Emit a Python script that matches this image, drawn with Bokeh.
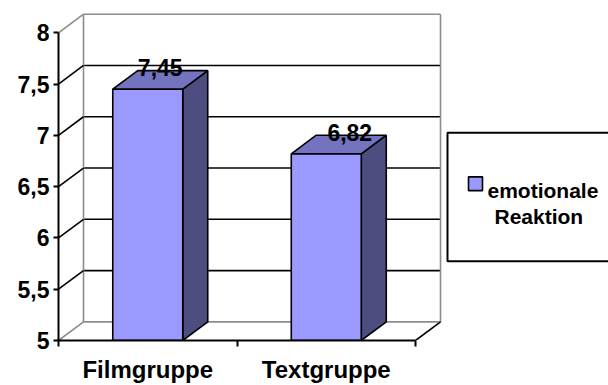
from bokeh.plotting import figure
from bokeh.models import Range1d, LinearAxis, FixedTicker
from bokeh.core.properties import value
from bokeh.embed import file_html
from bokeh.resources import INLINE

# --- data -------------------------------------------------------------
groups = ["Filmgruppe", "Textgruppe"]
reaction = [7.45, 6.82]
value_labels = ["7,45", "6,82"]
y_ticks = [5, 5.5, 6, 6.5, 7, 7.5, 8]
y_tick_labels = ["5", "5,5", "6", "6,5", "7", "7,5", "8"]
series_name = ["emotionale", "Reaktion"]

# --- layout constants ---------------------------------------------------
W, H = 608, 385
FRAME_LEFT, FRAME_BOTTOM = 58, 347          # frame edges in canvas pixels
X_MIN, X_MAX = 0.0, 3.081
Y_MIN, Y_MAX = 5.0, 8.315
PX_X = (W - FRAME_LEFT) / (X_MAX - X_MIN)   # pixels per x unit
PX_Y = FRAME_BOTTOM / (Y_MAX - Y_MIN)       # pixels per y unit

DX = 25 / PX_X        # depth offset of the 3-D wall, in x units
DY = 19 / PX_Y        # depth offset of the 3-D wall, in y units
HALF_BAR = 35 / PX_X  # half width of a bar's front face

FONT = "Liberation Sans"
FRONT, TOP, SIDE = "#9999ff", "#7373bf", "#4d4d80"
WALL_GREY = "#8c8c8c"

n = len(groups)
centers = [i + 0.5 for i in range(n)]
y_lo, y_hi = y_ticks[0], y_ticks[-1]


def px_x(px):
    return X_MIN + (px - FRAME_LEFT) / PX_X


def px_y(py):
    return Y_MIN + (FRAME_BOTTOM - py) / PX_Y


p = figure(width=W, height=H,
           x_range=Range1d(X_MIN, X_MAX), y_range=Range1d(Y_MIN, Y_MAX),
           x_axis_type=None, y_axis_type=None,
           output_backend="svg", toolbar_location=None,
           min_border_left=FRAME_LEFT, min_border_right=0,
           min_border_top=0, min_border_bottom=H - FRAME_BOTTOM)
p.outline_line_color = None
p.background_fill_color = "white"
p.border_fill_color = "white"

# --- back wall and its grid lines ---------------------------------------
inner = y_ticks[1:-1]
p.segment(x0=[DX] * len(inner), y0=[t + DY for t in inner],
          x1=[n + DX] * len(inner), y1=[t + DY for t in inner],
          line_color="black", line_width=1.6)
# wall border (grey)
p.segment(x0=[DX, DX, n + DX, DX], y0=[y_lo + DY, y_hi + DY, y_lo + DY, y_lo + DY],
          x1=[DX, n + DX, n + DX, n + DX], y1=[y_hi + DY, y_hi + DY, y_hi + DY, y_lo + DY],
          line_color=WALL_GREY, line_width=1.6)
# side wall diagonals at each tick
p.segment(x0=[0] * len(inner), y0=inner, x1=[DX] * len(inner),
          y1=[t + DY for t in inner], line_color="black", line_width=1.6)
p.segment(x0=[0, 0], y0=[y_lo, y_hi], x1=[DX, DX], y1=[y_lo + DY, y_hi + DY],
          line_color=WALL_GREY, line_width=1.6)
# floor edge on the right
p.segment(x0=[n], y0=[y_lo], x1=[n + DX], y1=[y_lo + DY],
          line_color="black", line_width=1.6)

# --- 3-D bars -------------------------------------------------------------
lefts = [c - HALF_BAR for c in centers]
rights = [c + HALF_BAR for c in centers]
side_xs = [[r, r + DX, r + DX, r] for r in rights]
side_ys = [[y_lo, y_lo + DY, v + DY, v] for v in reaction]
top_xs = [[l, r, r + DX, l + DX] for l, r in zip(lefts, rights)]
top_ys = [[v, v, v + DY, v + DY] for v in reaction]

p.patches(side_xs, side_ys, fill_color=SIDE, line_color="black", line_width=1.6)
p.patches(top_xs, top_ys, fill_color=TOP, line_color="black", line_width=1.6)
p.quad(left=lefts, right=rights, bottom=[y_lo] * n, top=reaction,
       fill_color=FRONT, line_color="black", line_width=1.6)

# value labels above the bars
label_nudge = [0, 11]
p.text(x=[c + DX / 2 for c in centers], y=[v + DY for v in reaction],
       text=value_labels, x_offset=label_nudge, y_offset=-3,
       text_align="center", text_baseline="alphabetic",
       text_font=value(FONT), text_font_style="bold",
       text_font_size="23px", text_color="black")

# --- axes ---------------------------------------------------------------
yaxis = LinearAxis(ticker=FixedTicker(ticks=y_ticks), bounds=(y_lo, y_hi),
                   major_label_overrides={t: s for t, s in zip(y_ticks, y_tick_labels)},
                   axis_line_color="black", axis_line_width=2,
                   major_tick_in=0, major_tick_out=5, major_tick_line_width=2,
                   minor_tick_in=0, minor_tick_out=0,
                   major_label_standoff=4,
                   major_label_text_font=FONT, major_label_text_font_style="bold",
                   major_label_text_font_size="23px", major_label_text_color="black")
p.add_layout(yaxis, "left")

xaxis = LinearAxis(ticker=FixedTicker(ticks=centers, minor_ticks=list(range(n + 1))),
                   bounds=(0, n),
                   major_label_overrides={c: g for c, g in zip(centers, groups)},
                   axis_line_color="black", axis_line_width=2,
                   major_tick_in=0, major_tick_out=0,
                   minor_tick_in=0, minor_tick_out=6, minor_tick_line_width=2,
                   major_label_standoff=9,
                   major_label_text_font=FONT, major_label_text_font_style="bold",
                   major_label_text_font_size="24px", major_label_text_color="black")
p.add_layout(xaxis, "below")

# --- legend ---------------------------------------------------------------
p.quad(left=[px_x(447)], right=[px_x(640)], top=[px_y(135)], bottom=[px_y(266)],
       fill_color="white", line_color="black", line_width=2)
p.quad(left=[px_x(468)], right=[px_x(482)], top=[px_y(180)], bottom=[px_y(194)],
       fill_color=FRONT, line_color="black", line_width=1.6)
p.text(x=[px_x(487), px_x(494)], y=[px_y(194), px_y(220)], text=series_name,
       text_align="left", text_baseline="alphabetic",
       text_font=value(FONT), text_font_style="bold",
       text_font_size="21px", text_color="black")

open("out.html", "w").write(file_html(p, INLINE))
